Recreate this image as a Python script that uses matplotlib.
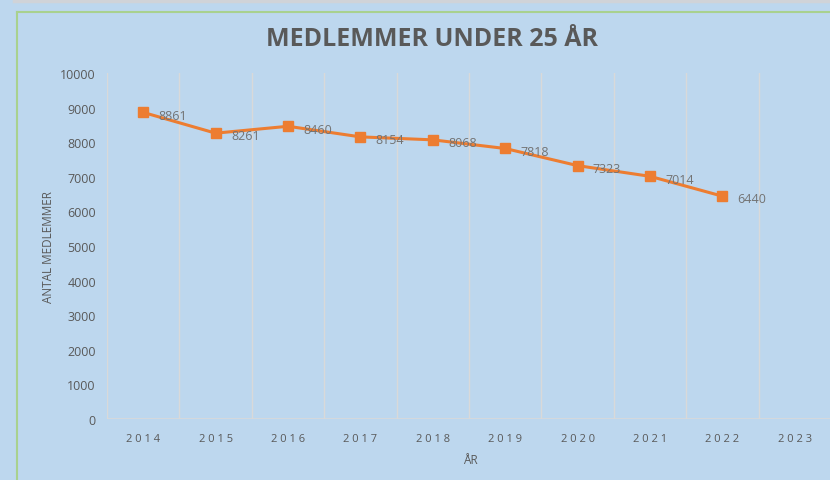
import numpy as np
import matplotlib.pyplot as plt
from matplotlib.lines import Line2D

years = ["2014", "2015", "2016", "2017", "2018", "2019", "2020", "2021", "2022", "2023"]
members = [8861, 8261, 8460, 8154, 8068, 7818, 7323, 7014, 6440]

bg = "#BDD7EE"
txt = "#595959"
orange = "#ED7D31"
grid = "#D9D9D9"

plt.rcParams["font.family"] = ["Open Sans", "DejaVu Sans"]

fig = plt.figure(figsize=(8.3, 4.81), dpi=100)
fig.patch.set_facecolor(bg)

# outer frame bits
fig.add_artist(Line2D([14/830, 1], [1 - 1.5/481, 1 - 1.5/481], color="#D0D3D8", lw=2.5))
fig.add_artist(Line2D([16.5/830, 16.5/830], [0, 1 - 12.5/481], color="#A9D18E", lw=1.5))
fig.add_artist(Line2D([16.5/830, 1], [1 - 12.5/481, 1 - 12.5/481], color="#A9D18E", lw=1.5))

ax = fig.add_axes([107/830, 1 - 420/481, 724/830, 346/481])
ax.set_facecolor(bg)
x = np.arange(len(years))

for xv in np.arange(-0.5, len(years), 1.0):
    ax.axvline(xv, color=grid, lw=1, zorder=1)
ax.axhline(0, color=grid, lw=1.2, zorder=1)

ax.plot(x[:len(members)], members, color=orange, lw=2.2, marker="s", ms=7, zorder=3)
for xi, v in zip(x, members):
    ax.annotate(str(v), (xi, v), xytext=(11, -2), textcoords="offset points",
                ha="left", va="center", fontsize=9, color="#737373", zorder=4)

ax.set_xlim(-0.5, len(years) - 0.5)
ax.set_ylim(0, 10000)
ax.set_yticks(np.arange(0, 10001, 1000))
ax.set_yticklabels([str(v) for v in range(0, 10001, 1000)], fontsize=9, color=txt)
ax.set_xticks(x)
ax.set_xticklabels([" ".join(y) for y in years], fontsize=8, color=txt)
ax.tick_params(length=0, pad=8)
ax.tick_params(axis="x", pad=10)
for s in ax.spines.values():
    s.set_visible(False)

ax.set_ylabel("ANTAL MEDLEMMER", fontsize=8.5, color=txt)
ax.yaxis.set_label_coords(-52/724, 0.5)
ax.set_xlabel("ÅR", fontsize=8.5, color=txt)
ax.xaxis.set_label_coords((470 - 107)/724, -34/346)

fig.text(432/830, 1 - 40/481, "MEDLEMMER UNDER 25 ÅR", ha="center", va="center",
         fontsize=18, fontweight="bold", color=txt)

fig.savefig("out.png", dpi=100, facecolor=fig.get_facecolor())
